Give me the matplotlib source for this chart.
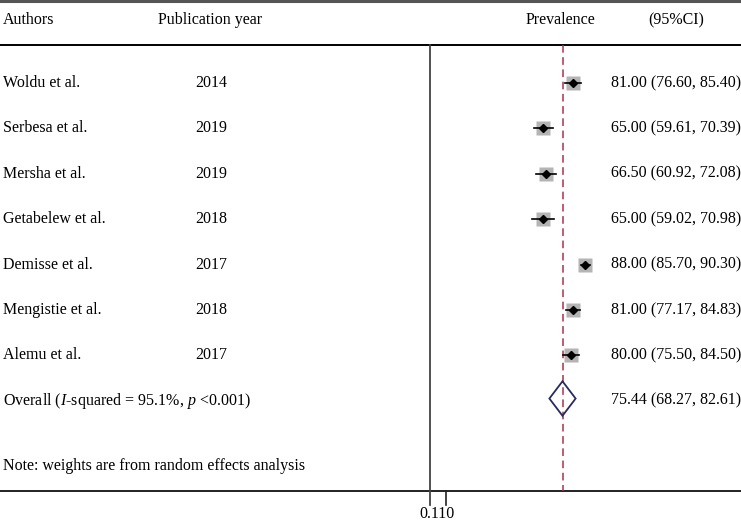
import matplotlib
matplotlib.use("Agg")
import matplotlib.pyplot as plt
from matplotlib.patches import Polygon

# study data
authors = ["Woldu et al.", "Serbesa et al.", "Mersha et al.", "Getabelew et al.",
           "Demisse et al.", "Mengistie et al.", "Alemu et al."]
years = ["2014", "2019", "2019", "2018", "2017", "2018", "2017"]
est = [81.00, 65.00, 66.50, 65.00, 88.00, 81.00, 80.00]
lo = [76.60, 59.61, 60.92, 59.02, 85.70, 77.17, 75.50]
hi = [85.40, 70.39, 72.08, 70.98, 90.30, 84.83, 84.50]

# pooled estimate
pooled = 75.44
pooled_lo = 68.27
pooled_hi = 82.61
null_value = 3.0

plt.rcParams['font.family'] = ['Liberation Serif', 'DejaVu Serif']
plt.rcParams['mathtext.fontset'] = 'custom'
plt.rcParams['mathtext.rm'] = 'Liberation Serif'
plt.rcParams['mathtext.it'] = 'Liberation Serif:italic'
fs = 11.5

fig = plt.figure(figsize=(7.41, 5.22), dpi=100)
ax = fig.add_axes([0, 0, 1, 1])
ax.set_xlim(-232.0, 173.0)
ax.set_ylim(9.67, -1.83)
ax.axis('off')

tx = ax.get_yaxis_transform()  # x in axes fraction, y in data

# frame lines
ax.axhline(-1.81, color='#555555', lw=2.2)
ax.axhline(-0.84, color='black', lw=1.4)
ax.axhline(8.99, color='#222222', lw=1.4)

# null line and ticks
ax.plot([null_value, null_value], [-0.84, 9.3], color='#444444', lw=1.3)
ax.plot([null_value + 9, null_value + 9], [8.99, 9.3], color='#222222', lw=1.2)
ax.text(null_value + 4.0, 9.5, "0.110", ha='center', va='center', fontsize=fs)

# pooled dashed line
ax.plot([pooled, pooled], [-0.84, 8.99], color='#a83250', lw=1.1,
        dashes=(5, 3))

# header
hy = -1.39
ax.text(3 / 741, hy, "Authors", transform=tx, fontsize=fs, va='center')
ax.text(158 / 741, hy, "Publication year", transform=tx, fontsize=fs, va='center')
ax.text(526 / 741, hy, "Prevalence", transform=tx, fontsize=fs, va='center')
ax.text(648 / 741, hy, "(95%CI)", transform=tx, fontsize=fs, va='center')

for i in range(len(authors)):
    ax.text(3 / 741, i, authors[i], transform=tx, fontsize=fs, va='center')
    ax.text(195 / 741, i, years[i], transform=tx, fontsize=fs, va='center')
    ax.text(611 / 741, i, f"{est[i]:.2f} ({lo[i]:.2f}, {hi[i]:.2f})",
            transform=tx, fontsize=fs, va='center')
    ax.plot([lo[i], hi[i]], [i, i], color='black', lw=1.2, zorder=3)
    ax.plot(est[i], i, marker='s', ms=9.5, color='#b4b4b4', mec='none', zorder=2)
    ax.plot(est[i], i, marker='D', ms=4.5, color='black', zorder=4)

# overall
oy = len(authors)
ax.text(3 / 741, oy, "Overall ($\\it{I}$-squared = 95.1%, $\\it{p}$ <0.001)",
        transform=tx, fontsize=fs, va='center')
ax.text(611 / 741, oy, f"{pooled:.2f} ({pooled_lo:.2f}, {pooled_hi:.2f})",
        transform=tx, fontsize=fs, va='center')
dia = Polygon([[pooled_lo, oy - 0.05], [pooled, oy - 0.43], [pooled_hi, oy - 0.05],
               [pooled, oy + 0.33]], closed=True, fill=False,
              edgecolor='#2a2a60', lw=1.3, zorder=5)
ax.add_patch(dia)

ax.text(3 / 741, 8.43, "Note: weights are from random effects analysis",
        transform=tx, fontsize=fs, va='center')

fig.savefig("out.png", dpi=100)
